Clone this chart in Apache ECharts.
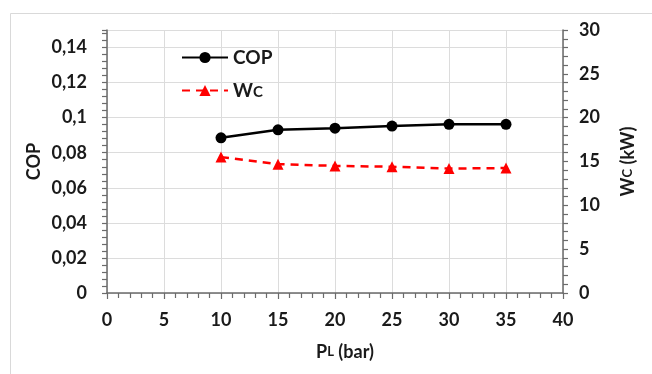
<!DOCTYPE html>
<html>
<head>
<meta charset="utf-8">
<script src="https://cdn.jsdelivr.net/npm/echarts@6/dist/echarts.min.js"></script>
<style>html,body{margin:0;padding:0;background:#fff;}#c{width:652px;height:374px;}</style>
</head>
<body>
<div id="c"></div>
<script>
var pressures = [10, 15, 20, 25, 30, 35];
var copValues = [0.0885, 0.0931, 0.0940, 0.0952, 0.0962, 0.0962];
var wcValues = [15.5, 14.7, 14.5, 14.4, 14.2, 14.25];
var FONT = 'Lato';

var chart = echarts.init(document.getElementById('c'));
var axisLineColor = '#6b6b6b';
var gridColor = '#dcdcdc';
var labelStyle = {color: '#1a1a1a', fontFamily: FONT, fontWeight: 'bold', fontSize: 18};

chart.setOption({
  animation: false,
  backgroundColor: '#ffffff',
  graphic: [{
    type: 'rect', left: 8, top: 11,
    shape: {x: 0, y: 0, width: 660, height: 380},
    style: {fill: 'none', stroke: '#d9d9d9', lineWidth: 1}
  }],
  grid: {left: 107, right: 89, top: 30, bottom: 81, containLabel: false},
  legend: {
    orient: 'vertical', left: 176, top: 43, itemWidth: 46, itemHeight: 14, itemGap: 14,
    textStyle: {color: '#1a1a1a', fontFamily: FONT, fontWeight: 'bold', fontSize: 19,
      rich: {b: {fontFamily: FONT, fontWeight: 'bold', fontSize: 19, color: '#1a1a1a'},
             s: {fontFamily: FONT, fontWeight: 'bold', fontSize: 15, color: '#1a1a1a', verticalAlign: 'bottom'}}},
    formatter: function (n) { return n === 'Wc' ? '{b|W}{s|C}' : n; },
    data: ['COP', 'Wc']
  },
  xAxis: {
    type: 'value', min: 0, max: 40, interval: 5,
    name: '{b|P}{s|L}{b| (bar)}', nameLocation: 'middle', nameGap: 50,
    nameTextStyle: {padding: [0, 0, 0, 20],
      rich: {b: {fontFamily: FONT, fontWeight: 'bold', fontSize: 18, color: '#1a1a1a'},
             s: {fontFamily: FONT, fontWeight: 'bold', fontSize: 13, color: '#1a1a1a'}}},
    axisLine: {show: true, lineStyle: {color: axisLineColor, width: 1.5}},
    axisTick: {show: true, length: 6, lineStyle: {color: axisLineColor, width: 1.2}},
    minorTick: {show: true, splitNumber: 5, length: 5, lineStyle: {color: axisLineColor, width: 1.2}},
    axisLabel: Object.assign({margin: 18}, labelStyle),
    splitLine: {show: true, lineStyle: {color: gridColor, width: 1}}
  },
  yAxis: [{
    type: 'value', min: 0, max: 0.15, interval: 0.02,
    name: 'COP', nameLocation: 'middle', nameGap: 64, nameRotate: 90, nameMoveOverlap: false,
    nameTextStyle: {fontFamily: FONT, fontWeight: 'bold', fontSize: 18, color: '#1a1a1a'},
    axisLine: {show: true, lineStyle: {color: axisLineColor, width: 1.5}},
    axisTick: {show: true, length: 5, lineStyle: {color: axisLineColor, width: 1.2}},
    minorTick: {show: true, splitNumber: 5, length: 5, lineStyle: {color: axisLineColor, width: 1.2}},
    axisLabel: Object.assign({margin: 20, showMaxLabel: false, formatter: function (v) {
      return String(Math.round(v * 100) / 100).replace('.', ',');
    }}, labelStyle),
    splitLine: {show: true, lineStyle: {color: gridColor, width: 1}}
  }, {
    type: 'value', min: 0, max: 30, interval: 5, position: 'right',
    name: '{b|W}{s|C}{b| (kW)}', nameLocation: 'middle', nameGap: 56, nameRotate: 90,
    nameTextStyle: {rich: {b: {fontFamily: FONT, fontWeight: 'bold', fontSize: 18, color: '#1a1a1a'},
                           s: {fontFamily: FONT, fontWeight: 'bold', fontSize: 13, color: '#1a1a1a'}}},
    axisLine: {show: true, lineStyle: {color: axisLineColor, width: 1.5}},
    axisTick: {show: true, length: 5, lineStyle: {color: axisLineColor, width: 1.2}},
    minorTick: {show: true, splitNumber: 5, length: 5, lineStyle: {color: axisLineColor, width: 1.2}},
    axisLabel: Object.assign({margin: 16}, labelStyle),
    splitLine: {show: false}
  }],
  series: [{
    name: 'COP', type: 'line', yAxisIndex: 0,
    data: pressures.map(function (p, i) { return [p, copValues[i]]; }),
    symbol: 'circle', symbolSize: 11,
    lineStyle: {color: '#000', width: 2.5},
    itemStyle: {color: '#000'}
  }, {
    name: 'Wc', type: 'line', yAxisIndex: 1,
    data: pressures.map(function (p, i) { return [p, wcValues[i]]; }),
    symbol: 'triangle', symbolSize: 11,
    lineStyle: {color: '#ff0000', width: 2.5, type: [8, 6]},
    itemStyle: {color: '#ff0000'}
  }]
});
</script>
</body>
</html>
